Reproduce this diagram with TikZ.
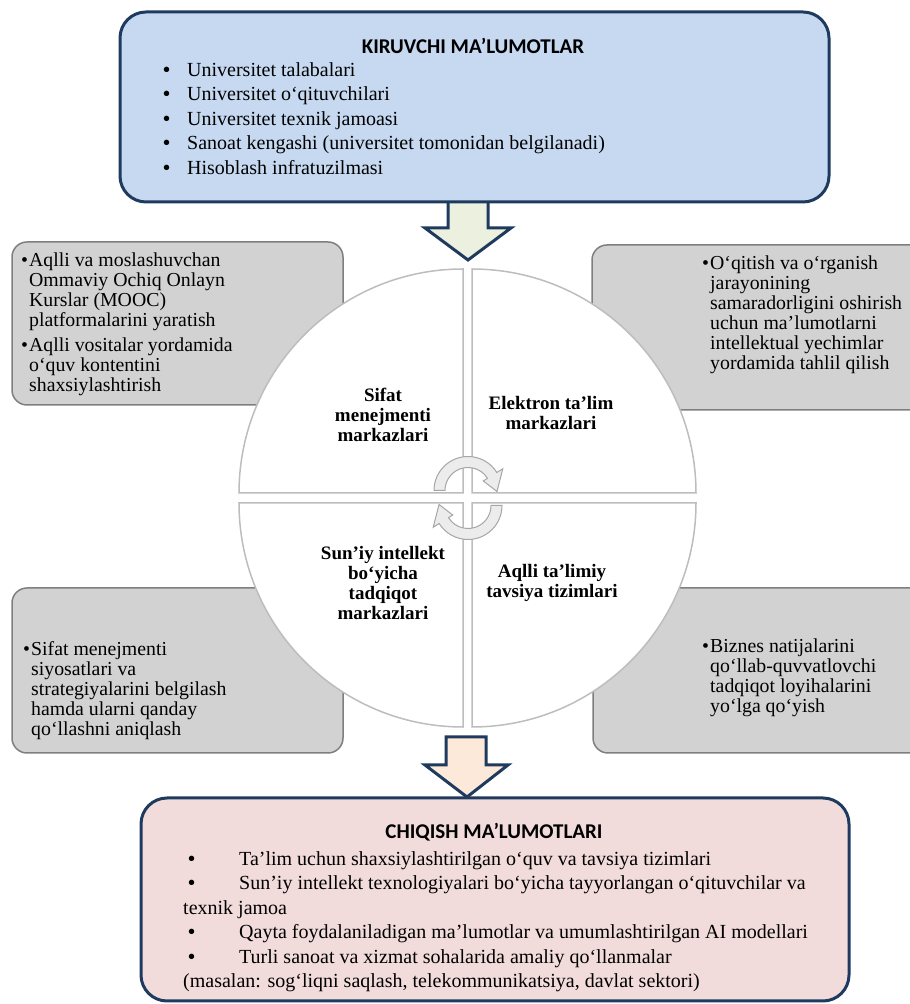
\documentclass[tikz,border=0pt]{standalone}
\usepackage{fontspec}
\setmainfont{Liberation Serif}
\newfontfamily\titlefont{Carlito}
\usetikzlibrary{positioning}

\definecolor{navy}{HTML}{1F3A5F}
\definecolor{inblue}{HTML}{C6D9F1}
\definecolor{outpink}{HTML}{F2DCDB}
\definecolor{arrgreen}{HTML}{EBF1DE}
\definecolor{arrpeach}{HTML}{FDE9D9}
\definecolor{boxgray}{HTML}{D2D2D2}
\definecolor{edgegray}{HTML}{7F7F7F}
\definecolor{ringgray}{HTML}{BDBDBD}

\newcommand\inbullet{\makebox[24pt][l]{\textbf{•}}}
\newcommand\outbullet{\makebox[56pt][l]{\hspace{5pt}\textbf{•}}}
\newcommand\sidebullet{\makebox[8pt][l]{•}}
\newcommand\sideindent{\hspace*{8pt}}

\tikzset{
  mainbox/.style={draw=navy, line width=3pt, rounded corners=26pt},
  sidebox/.style={draw=edgegray, line width=1.5pt, fill=boxgray, rounded corners=15pt},
  quarter/.style={draw=ringgray, line width=1.5pt, fill=white},
  bigarrow/.style={draw=navy, line width=3pt, line join=miter},
  cycarrow/.style={draw=gray!70, fill=gray!15, line width=1pt},
  sidetext/.style={anchor=north west, inner sep=0pt, align=left, font=\fontsize{19.8}{20}\selectfont},
  sectlabel/.style={inner sep=0pt, align=center, font=\fontsize{19}{20}\selectfont\bfseries},
  listtext/.style={anchor=north west, inner sep=0pt, align=left, font=\fontsize{20}{24.5}\selectfont},
  boxtitle/.style={inner sep=0pt, font=\fontsize{21}{22}\selectfont\titlefont\bfseries},
}

\begin{document}
\begin{tikzpicture}[x=1pt,y=1pt]
  \useasboundingbox (0,0) rectangle (910,1004);
  \clip (0,0) rectangle (910,1004);

  % grey boxes behind the circle
  \draw[sidebox] (12,599) rectangle (343,762);
  \draw[sidebox] (592,594) rectangle (930,759);
  \draw[sidebox] (12,251) rectangle (343,416);
  \draw[sidebox] (593,251) rectangle (930,416);

  \node[sidetext] (tltext) at (21,751) {\sidebullet Aqlli va moslashuvchan\\
    \sideindent Ommaviy Ochiq Onlayn\\ \sideindent Kurslar (MOOC)\\
    \sideindent platformalarini yaratish\\[5pt]
    \sidebullet Aqlli vositalar yordamida\\ \sideindent o‘quv kontentini\\
    \sideindent shaxsiylashtirish};
  \node[sidetext] (trtext) at (702,748) {\sidebullet O‘qitish va o‘rganish\\
    \sideindent jarayonining\\ \sideindent samaradorligini oshirish\\
    \sideindent uchun ma’lumotlarni\\ \sideindent intellektual yechimlar\\
    \sideindent yordamida tahlil qilish};
  \node[sidetext] (bltext) at (23,363) {\sidebullet Sifat menejmenti\\
    \sideindent siyosatlari va\\ \sideindent strategiyalarini belgilash\\
    \sideindent hamda ularni qanday\\ \sideindent qo‘llashni aniqlash};
  \node[sidetext] (brtext) at (702,365) {\sidebullet Biznes natijalarini\\
    \sideindent qo‘llab-quvvatlovchi\\ \sideindent tadqiqot loyihalarini\\
    \sideindent yo‘lga qo‘yish};

  % the four quarters
  \draw[quarter] (463,511) -- ++(-224,0) arc[start angle=180, end angle=90, radius=224] -- cycle;
  \draw[quarter] (472,511) -- ++(0,224) arc[start angle=90, end angle=0, radius=224] -- cycle;
  \draw[quarter] (463,501) -- ++(0,-224) arc[start angle=270, end angle=180, radius=224] -- cycle;
  \draw[quarter] (472,501) -- ++(224,0) arc[start angle=0, end angle=-90, radius=224] -- cycle;

  \node[sectlabel] (qual) at (383,589) {Sifat\\menejmenti\\markazlari};
  \node[sectlabel] (elearn) at (551,591) {Elektron ta’lim\\markazlari};
  \node[sectlabel] (airesearch) at (383,421) {Sun’iy intellekt\\bo‘yicha\\tadqiqot\\markazlari};
  \node[sectlabel] (recsys) at (552,421) {Aqlli ta’limiy\\tavsiya tizimlari};

  % turning arrows in the middle
  \begin{scope}[shift={(468,513.5)}]
    \draw[cycarrow] (180:34) arc[start angle=180, end angle=32, radius=34] -- (32:41)
      -- (-2:29) -- (32:18) -- (32:23) arc[start angle=32, end angle=180, radius=23] -- cycle;
  \end{scope}
  \begin{scope}[shift={(468,498.5)}, rotate=180]
    \draw[cycarrow] (180:34) arc[start angle=180, end angle=32, radius=34] -- (32:41)
      -- (-2:29) -- (32:18) -- (32:23) arc[start angle=32, end angle=180, radius=23] -- cycle;
  \end{scope}

  % block arrows
  \draw[bigarrow, fill=arrgreen] (448,810) -- (448,776) -- (425,776) -- (468,744)
    -- (511,776) -- (488,776) -- (488,810) -- cycle;
  \draw[bigarrow, fill=arrpeach] (446,267) -- (486,267) -- (486,239) -- (508,239)
    -- (467,207) -- (425,239) -- (446,239) -- cycle;

  % input and output boxes
  \node[mainbox, fill=inblue, minimum width=709pt, minimum height=190pt] (inp) at (474.5,897) {};
  \node[mainbox, fill=outpink, minimum width=708pt, minimum height=203pt] (out) at (495,104.5) {};

  \node[boxtitle] (intitle) at (473,958) {KIRUVCHI MA’LUMOTLAR};
  \node[listtext] (inlist) at (163,942) {\inbullet Universitet talabalari\\
    \inbullet Universitet o‘qituvchilari\\ \inbullet Universitet texnik jamoasi\\
    \inbullet Sanoat kengashi (universitet tomonidan belgilanadi)\\
    \inbullet Hisoblash infratuzilmasi};

  \node[boxtitle] (outtitle) at (494,172) {CHIQISH MA’LUMOTLARI};
  \node[listtext] (outlist) at (183,153) {\outbullet Ta’lim uchun shaxsiylashtirilgan o‘quv va tavsiya tizimlari\\
    \outbullet Sun’iy intellekt texnologiyalari bo‘yicha tayyorlangan o‘qituvchilar va\\
    texnik jamoa\\
    \outbullet Qayta foydalaniladigan ma’lumotlar va umumlashtirilgan AI modellari\\
    \outbullet Turli sanoat va xizmat sohalarida amaliy qo‘llanmalar\\
    (masalan: sog‘liqni saqlash, telekommunikatsiya, davlat sektori)};
\end{tikzpicture}
\end{document}
